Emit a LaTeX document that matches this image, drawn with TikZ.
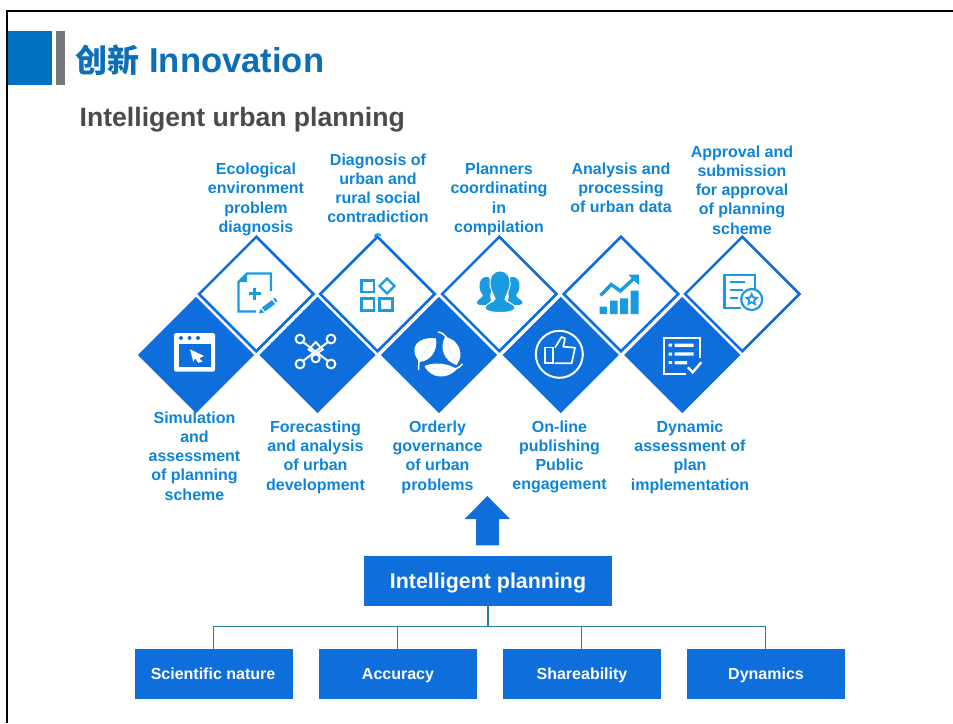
\documentclass[tikz,border=0pt]{standalone}
\usepackage{fontspec}
\setmainfont{Liberation Sans}
\newfontfamily\cjk{Noto Sans CJK SC}
\usetikzlibrary{shapes.geometric}
\definecolor{mainblue}{HTML}{0E6EDB}
\definecolor{labelblue}{HTML}{0C84D8}
\definecolor{titleblue}{HTML}{0B6FB8}
\definecolor{blockblue}{HTML}{0070C0}
\definecolor{bargray}{HTML}{75787B}
\definecolor{subgray}{HTML}{4A4A4A}
\definecolor{iconblue}{HTML}{1A9ADF}
\definecolor{linkblue}{HTML}{2A7DB0}
\tikzset{
  lowdia/.style={diamond,aspect=1,inner sep=0pt,minimum width=116.5pt,minimum height=116.5pt,fill=mainblue},
  updia/.style={diamond,aspect=1,inner sep=0pt,minimum width=115.5pt,minimum height=115.5pt,fill=white,draw=mainblue,line width=2.6pt},
  lab/.style={font=\fontsize{16}{19.25}\selectfont\bfseries,text=labelblue,align=center,inner sep=0pt},
  boxs/.style={fill=mainblue,text=white,inner sep=0pt,minimum width=158pt,minimum height=50pt,text height=11.5pt,text depth=0pt,font=\fontsize{16}{19}\selectfont\bfseries},
  link/.style={draw=linkblue,line width=1pt},
  iconl/.style={draw=iconblue,line width=2.2pt,fill=none,line join=miter},
  iconw/.style={draw=white,line width=2pt,fill=none},
  wfill/.style={fill=white,draw=none},
  ifill/.style={fill=iconblue,draw=none}
}
\begin{document}
\begin{tikzpicture}[x=1pt,y=-1pt]
\useasboundingbox (0,0) rectangle (953,723);
% frame
\draw[black,line width=2.4pt] (7.2,723) -- (7.2,11) -- (953,11);
\fill[blockblue] (8.4,31) rectangle (52,85);
\fill[bargray] (56,31) rectangle (65,85);
\node[anchor=west,inner sep=0pt,text=titleblue,font=\fontsize{34.6}{38}\selectfont\bfseries] (title) at (75.5,60) {{\cjk\fontsize{32}{38}\selectfont 创新} Innovation};
\node[anchor=west,inner sep=0pt,text=subgray,font=\fontsize{26.6}{30}\selectfont\bfseries] (subtitle) at (79.5,120) {Intelligent urban planning};
% upper labels (drawn first: the last letter of one runs under a diamond)
\node[lab] (t1) at (256,199.3) {Ecological\\environment\\problem\\diagnosis};
\node[lab] (t2) at (378,198) {Diagnosis of\\urban and\\rural social\\contradiction\\s};
\fill[white] (368,236.8) rectangle (388,248);
\node[lab] (t3) at (499,199.3) {Planners\\coordinating\\in\\compilation};
\node[lab] (t4) at (621,188) {Analysis and\\processing\\of urban data};
\node[lab] (t5) at (742,190) {Approval and\\submission\\for approval\\of planning\\scheme};
% lower diamonds
\node[lowdia] (d1) at (196,355) {};
\node[lowdia] (d2) at (317.5,355) {};
\node[lowdia] (d3) at (439,355) {};
\node[lowdia] (d4) at (560.8,355) {};
\node[lowdia] (d5) at (682.3,355) {};
% upper diamonds
\node[updia] (u1) at (256.3,294) {};
\node[updia] (u2) at (377.5,294) {};
\node[updia] (u3) at (499.3,294) {};
\node[updia] (u4) at (621,294) {};
\node[updia] (u5) at (742.3,294) {};
% lower labels
\node[lab] (b1) at (194.5,456) {Simulation\\and\\assessment\\of planning\\scheme};
\node[lab] (b2) at (315.5,457) {Forecasting\\and analysis\\of urban\\development};
\node[lab] (b3) at (437.5,457) {Orderly\\governance\\of urban\\problems};
\node[lab] (b4) at (559.5,457) {On-line\\publishing\\Public\\engagement};
\node[lab] (b5) at (690,457) {Dynamic\\assessment of\\plan\\implementation};
% icon: document with plus and pencil
\draw[iconl] (271,291) -- (271,273.5) -- (247,273.5) -- (238.5,282) -- (238.5,311.5) -- (256,311.5);
\fill[iconblue] (247,273.5) -- (247,282) -- (238.5,282) -- cycle;
\draw[iconblue,line width=2.4pt] (248.5,293.5) -- (260.5,293.5) (254.5,287.5) -- (254.5,299.5);
\fill[iconblue] (262,307.5) -- (272,300) -- (275,304) -- (265,311.5) -- cycle;
\fill[iconblue] (273.2,298.8) -- (275,297.5) -- (277.5,301) -- (275.8,302.5) -- cycle;
\fill[iconblue] (261,308.5) -- (264,312.5) -- (258.5,313.5) -- cycle;
% icon: squares and diamond
\draw[iconl] (361.5,280.5) rectangle (374,292) (361.5,298.5) rectangle (374,310.5) (379.5,298.5) rectangle (392.5,310.5);
\draw[iconl] (387,278.5) -- (394.5,286) -- (387,293.5) -- (379.5,286) -- cycle;
% icon: people
\fill[iconblue] (485,277) .. controls (490,275) and (492,282) .. (491,290) .. controls (490.5,296) and (489,298) .. (491,300) -- (489,304.5) .. controls (482,305.5) and (476,305.5) .. (477,302) .. controls (478,299) and (483,298) .. (483,295) .. controls (478,290) and (478,279) .. (485,277) -- cycle;
\fill[iconblue] (514,277) .. controls (509,275) and (507,282) .. (508,290) .. controls (508.5,296) and (510,298) .. (508,300) -- (510,304.5) .. controls (517,305.5) and (523,305.5) .. (522.5,302) .. controls (521,299) and (516,298) .. (516,295) .. controls (521,290) and (521,279) .. (514,277) -- cycle;
\fill[iconblue,draw=white,line width=1pt] (500,271) .. controls (492,271) and (489,278) .. (490,285) .. controls (491,291) and (494,295) .. (495,299) .. controls (495,302) and (485,303) .. (485,308) .. controls (485,311) and (492,312.5) .. (500,312.5) .. controls (508,312.5) and (515,311) .. (515,308) .. controls (515,303) and (505,302) .. (505,299) .. controls (506,295) and (509,291) .. (510,285) .. controls (511,278) and (508,271) .. (500,271) -- cycle;
% icon: chart
\fill[iconblue] (599.5,306.7) rectangle (607,314) (610,300.7) rectangle (617.5,314) (620,298.3) rectangle (628,314) (630.7,290.7) rectangle (638.7,314);
\draw[iconblue,line width=3.4pt] (600.5,295.5) -- (611.3,284.5) -- (620.3,291) -- (635,277.5);
\fill[iconblue] (628,274.5) -- (638.8,274.5) -- (638.8,285) -- cycle;
% icon: report with star badge
\draw[iconl] (755.3,289) -- (755.3,275) -- (724.5,275) -- (724.5,307.8) -- (741,307.8);
\draw[iconl] (730,282.3) -- (745,282.3) (730,290) -- (743,290) (730,298.3) -- (737.7,298.3);
\draw[iconl] (751.7,299.5) circle (10.5pt);
\draw[iconl,line width=1.8pt] (751.7,294.2) -- (753.2,297.4) -- (756.9,297.8) -- (754.2,300.3) -- (754.9,304) -- (751.7,302.1) -- (748.5,304) -- (749.2,300.3) -- (746.5,297.8) -- (750.2,297.4) -- cycle;
% icon: window with cursor
\fill[white,rounded corners=1.5pt] (174,333) rectangle (215,371.5);
\fill[mainblue] (178.5,344) rectangle (211,367);
\fill[mainblue] (181,338) circle (2pt) (189.5,338) circle (2pt) (198,338) circle (2pt);
\fill[white] (190,349.3) -- (204,356) -- (199.3,358.3) -- (202.7,361.7) -- (198.3,362.7) -- (195,358.3) -- (193.3,361.7) -- cycle;
% icon: network
\draw[iconw] (300,339) circle (4.4pt) (331,339) circle (4.4pt) (300,364) circle (4.4pt) (331,364) circle (4.4pt) (315.7,358.3) circle (4pt);
\draw[iconw] (303.1,342.1) -- (327.9,360.9) (327.9,342.1) -- (303.1,360.9);
\draw[iconw] (315.7,342) -- (322.7,349.5) -- (315.7,354.3) -- (308.7,349.5) -- cycle;
% icon: leaves
\fill[white] (419.5,362) .. controls (407,347) and (419,336) .. (436,338.5) .. controls (438,350) and (431,361) .. (419.5,362) -- cycle;
\draw[white,line width=1.5pt] (419,360) -- (418.5,370);
\fill[white] (445,337) .. controls (459,339) and (465,355) .. (456.5,365) .. controls (444,361) and (439,348) .. (445,337) -- cycle;
\draw[white,line width=1.5pt] (438,332) .. controls (442,332.5) and (445,335) .. (447,338);
\fill[white] (424.5,366) .. controls (435,361.5) and (448,363.5) .. (457,369) .. controls (448,379.5) and (431,379.5) .. (424.5,366) -- cycle;
\draw[white,line width=1.5pt] (455,369) .. controls (458,368.5) and (460,366.5) .. (462.5,364);
\draw[mainblue!18,line width=.5pt] (422,357) .. controls (425,350) and (429,345) .. (433,341) (447,342) .. controls (449,349) and (452,355) .. (455,361) (430,368) .. controls (438,369) and (445,369.5) .. (452,369.5);
% icon: thumb in circle
\draw[iconw] (559.3,354.3) circle (23.5pt);
\draw[white,line width=1.7pt] (545,347.5) rectangle (552.7,363.3);
\draw[white,line width=1.7pt,line join=round] (555,347.7) -- (561.5,337) -- (565,338.3) -- (563.3,346.7) -- (575,347.7) -- (571.7,363.3) -- (554.5,363.3);
% icon: list with check
\draw[iconw,line width=2pt] (700,358) -- (700,338) -- (664,338) -- (664,374.3) -- (686,374.3);
\fill[white] (668.7,343.7) rectangle (672,346.7) (668.7,352.5) rectangle (672,355.5) (668.7,361.2) rectangle (672,364.2);
\fill[white] (674.7,343.5) rectangle (693.7,346.8) (674.7,352.3) rectangle (693.7,355.6) (674.7,361) rectangle (687,364.3);
\draw[white,line width=2.4pt] (688,367.3) -- (692.7,372.3) -- (701.3,362.3);
% up arrow
\fill[mainblue] (487.3,496) -- (510,519) -- (499,519) -- (499,545.3) -- (476,545.3) -- (476,519) -- (464.7,519) -- cycle;
% tree
\node[boxs,minimum width=248pt,text height=15.5pt,font=\fontsize{21.4}{25}\selectfont\bfseries] (hub) at (488,581) {Intelligent planning};
\node[boxs] (sci) at (214,674) {\hspace*{-2pt}Scientific nature};
\node[boxs] (acc) at (398,674) {Accuracy};
\node[boxs] (sha) at (582,674) {Shareability};
\node[boxs] (dyn) at (766,674) {Dynamics};
\coordinate (bus) at (488,626.7);
\draw[link,line width=1.4pt] (hub.south) -- (bus);
\draw[link] ([xshift=-.7pt]sci.north) |- (bus);
\draw[link] ([xshift=-.7pt]acc.north) |- (bus);
\draw[link] ([xshift=-.7pt]sha.north) |- (bus);
\draw[link] ([xshift=-.7pt]dyn.north) |- (bus);
\end{tikzpicture}
\end{document}
